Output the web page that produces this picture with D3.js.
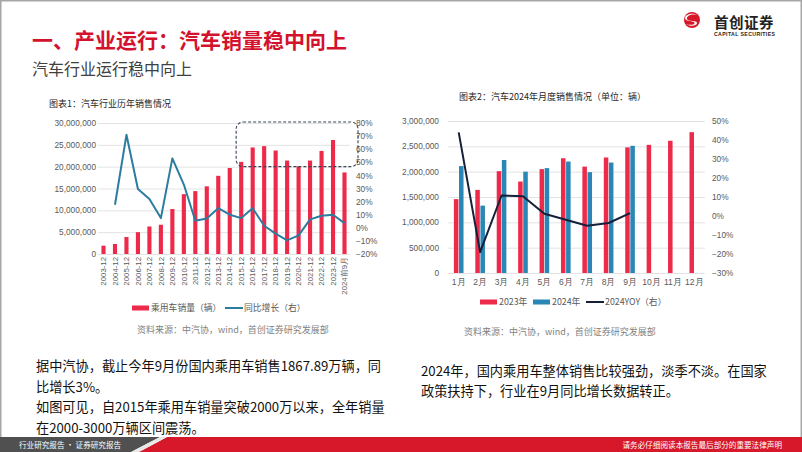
<!DOCTYPE html>
<html><head><meta charset="utf-8">
<script src="https://cdn.jsdelivr.net/npm/d3@7/dist/d3.min.js"></script>
<style>
html,body{margin:0;padding:0;background:#fff;}
svg{display:block;font-family:"Noto Sans CJK SC","Noto Sans",sans-serif;}
</style></head><body>
<svg id="c" width="802" height="452"></svg>
<script>
// ---- Data: chart 1 (annual) ----
const years = ["2003-12","2004-12","2005-12","2006-12","2007-12","2008-12","2009-12","2010-12","2011-12","2012-12","2013-12","2014-12","2015-12","2016-12","2017-12","2018-12","2019-12","2020-12","2021-12","2022-12","2023-12","2024前9月"];
const annualSales = [1.9e6,2.3e6,3.9e6,5.0e6,6.3e6,6.7e6,10.3e6,13.7e6,14.4e6,15.5e6,17.9e6,19.7e6,21.1e6,24.4e6,24.7e6,23.7e6,21.4e6,20.1e6,21.4e6,23.6e6,26.1e6,18.68e6];
const annualYoY = [null,0.176,0.71,0.296,0.22,0.074,0.53,0.33,0.054,0.071,0.15,0.10,0.074,0.149,0.016,-0.045,-0.096,-0.058,0.064,0.092,0.10,0.036];
const leftTicks = [0,5e6,10e6,15e6,20e6,25e6,30e6];
const rightTicks1 = [-0.2,-0.1,0,0.1,0.2,0.3,0.4,0.5,0.6,0.7,0.8];
// ---- Data: chart 2 (monthly) ----
const months = ["1月","2月","3月","4月","5月","6月","7月","8月","9月","10月","11月","12月"];
const sales2023 = [1.458e6,1.64e6,2.01e6,1.805e6,2.05e6,2.265e6,2.10e6,2.28e6,2.48e6,2.53e6,2.61e6,2.78e6];
const sales2024 = [2.11e6,1.33e6,2.23e6,2.0e6,2.07e6,2.2e6,1.99e6,2.18e6,2.51e6];
const yoy2024 = [0.44,-0.19,0.108,0.104,0.012,-0.02,-0.051,-0.037,0.015];
const leftTicks2 = [0,5e5,1e6,1.5e6,2e6,2.5e6,3e6];
const rightTicks2 = [-0.3,-0.2,-0.1,0,0.1,0.2,0.3,0.4,0.5];

const RED="#EE2A4A", BLUE="#2A86B4", TEAL="#2B7DA0", NAVY="#15203A", AX="#595959", GRID="#E3E3E3";
const svg = d3.select("#c");
const fmtN = d3.format(","), fmtP = d3.format(".0%");

// frame
svg.append("rect").attr("x",0.75).attr("y",0.75).attr("width",800.5).attr("height",450.5).attr("fill","none").attr("stroke","#A6A6A6").attr("stroke-width",1.5);

// header
svg.append("text").attr("x",32).attr("y",48).attr("font-size",21).attr("font-weight","bold").attr("fill","#D3122E").text("一、产业运行：汽车销量稳中向上");
svg.append("text").attr("x",32).attr("y",75).attr("font-size",16).attr("fill","#404040").text("汽车行业运行稳中向上");

// logo
const lg = svg.append("g").attr("transform","translate(692,20)");
lg.append("circle").attr("r",8).attr("fill","#D7182A");
lg.append("path").attr("d","M5.5,-4.5 C2,-7 -6,-5 -5,-1 C-4,2 5,0 5,3 C5,6 -2,7 -6,4 C-2,5.5 3,5 2.5,2.8 C2,0.5 -7,2 -7,-2 C-7,-6 2,-8 5.5,-4.5Z").attr("fill","#fff");
svg.append("text").attr("x",714).attr("y",28).attr("font-size",14.5).attr("font-weight","bold").attr("fill","#222").attr("letter-spacing",0.5).text("首创证券");
svg.append("text").attr("x",714).attr("y",36).attr("font-size",5.2).attr("font-weight","bold").attr("fill","#222").attr("font-family","Liberation Sans, sans-serif").attr("textLength",61).text("CAPITAL SECURITIES");

// ================= Chart 1 =================
const c1 = svg.append("g");
const x1 = d3.scaleBand().domain(years).range([98,350]).paddingInner(0.64).paddingOuter(0.3);
const y1 = d3.scaleLinear().domain([0,30e6]).range([254,123]);
const y1r = d3.scaleLinear().domain([-0.2,0.8]).range([254,123]);

c1.append("text").attr("x",49).attr("y",107).attr("font-size",9).attr("fill","#262626").text("图表1：汽车行业历年销售情况");

// grid
c1.append("g").attr("transform","translate(98,0)")
  .call(d3.axisLeft(y1).tickValues(leftTicks).tickSize(-252).tickFormat(""))
  .call(g=>{g.select(".domain").remove();g.selectAll("line").attr("stroke",GRID);});
// left axis labels
c1.append("g").attr("transform","translate(96,0)")
  .call(d3.axisLeft(y1).tickValues(leftTicks).tickSize(0).tickPadding(0).tickFormat(fmtN))
  .call(g=>{g.select(".domain").remove();g.selectAll("text").attr("font-size",8.3).attr("fill",AX).attr("font-family","Liberation Sans, sans-serif");});
// right axis labels
c1.append("g").attr("transform","translate(356,0)")
  .call(d3.axisRight(y1r).tickValues(rightTicks1).tickSize(0).tickPadding(0).tickFormat(fmtP))
  .call(g=>{g.select(".domain").remove();g.selectAll("text").attr("font-size",8.3).attr("fill",AX).attr("font-family","Liberation Sans, sans-serif");});

// bars
c1.selectAll("rect.b").data(years).join("rect").attr("class","b")
  .attr("x",d=>x1(d)).attr("width",x1.bandwidth())
  .attr("y",(d,i)=>y1(annualSales[i])).attr("height",(d,i)=>y1(0)-y1(annualSales[i]))
  .attr("fill",RED);
// line
const line1 = d3.line().defined(d=>d.v!=null).x(d=>x1(d.k)+x1.bandwidth()/2).y(d=>y1r(d.v));
c1.append("path").datum(years.map((k,i)=>({k,v:annualYoY[i]})))
  .attr("d",line1).attr("fill","none").attr("stroke",TEAL).attr("stroke-width",2).attr("stroke-linejoin","round");
// x labels
c1.append("g").attr("transform","translate(0,257)")
  .call(d3.axisBottom(x1).tickSize(0).tickPadding(0))
  .call(g=>{g.select(".domain").remove();
    g.selectAll("text").attr("font-size",7.8).attr("fill",AX).attr("text-anchor","end")
     .attr("transform","rotate(-90)").attr("x",0).attr("y",0).attr("dy","0.35em");});
// dashed highlight box
c1.append("rect").attr("x",x1("2015-12")-3).attr("y",y1(30e6)-1).attr("width",358-(x1("2015-12")-3)).attr("height",y1(20e6)-y1(30e6)+1)
  .attr("rx",7).attr("fill","none").attr("stroke","#3A4556").attr("stroke-width",1.1).attr("stroke-dasharray","3,2");

// legend 1
c1.append("rect").attr("x",132).attr("y",305.5).attr("width",17).attr("height",5).attr("fill",RED);
c1.append("text").attr("x",151).attr("y",311).attr("font-size",8.8).attr("fill",AX).text("乘用车销量（辆）");
c1.append("line").attr("x1",225).attr("x2",243).attr("y1",308).attr("y2",308).attr("stroke",TEAL).attr("stroke-width",2);
c1.append("text").attr("x",244).attr("y",311).attr("font-size",8.8).attr("fill",AX).text("同比增长（右）");
c1.append("text").attr("x",233).attr("y",333).attr("font-size",9).attr("fill","#7F7F7F").attr("text-anchor","middle").text("资料来源：中汽协，wind，首创证券研究发展部");

// ================= Chart 2 =================
const c2 = svg.append("g");
const x2 = d3.scaleBand().domain(months).range([448,705]).paddingInner(0.55).paddingOuter(0.275);
const x2s = d3.scaleBand().domain(["2023","2024"]).range([0,x2.bandwidth()]).paddingInner(0.12);
const y2 = d3.scaleLinear().domain([0,3e6]).range([273,121]);
const y2r = d3.scaleLinear().domain([-0.3,0.5]).range([273,121]);

c2.append("text").attr("x",459).attr("y",100).attr("font-size",9).attr("fill","#262626").text("图表2：汽车2024年月度销售情况（单位：辆）");

c2.append("g").attr("transform","translate(448,0)")
  .call(d3.axisLeft(y2).tickValues(leftTicks2).tickSize(-257).tickFormat(""))
  .call(g=>{g.select(".domain").remove();g.selectAll("line").attr("stroke",GRID);});
c2.append("g").attr("transform","translate(439,0)")
  .call(d3.axisLeft(y2).tickValues(leftTicks2).tickSize(0).tickPadding(0).tickFormat(fmtN))
  .call(g=>{g.select(".domain").remove();g.selectAll("text").attr("font-size",8.3).attr("fill",AX).attr("font-family","Liberation Sans, sans-serif");});
c2.append("g").attr("transform","translate(712,0)")
  .call(d3.axisRight(y2r).tickValues(rightTicks2).tickSize(0).tickPadding(0).tickFormat(fmtP))
  .call(g=>{g.select(".domain").remove();g.selectAll("text").attr("font-size",8.3).attr("fill",AX).attr("font-family","Liberation Sans, sans-serif");});

c2.selectAll("rect.r").data(months).join("rect").attr("class","r")
  .attr("x",d=>x2(d)+x2s("2023")).attr("width",x2s.bandwidth())
  .attr("y",(d,i)=>y2(sales2023[i])).attr("height",(d,i)=>y2(0)-y2(sales2023[i])).attr("fill",RED);
c2.selectAll("rect.bl").data(sales2024).join("rect").attr("class","bl")
  .attr("x",(d,i)=>x2(months[i])+x2s("2024")).attr("width",x2s.bandwidth())
  .attr("y",d=>y2(d)).attr("height",d=>y2(0)-y2(d)).attr("fill",BLUE);
const line2 = d3.line().x((d,i)=>x2(months[i])+x2.bandwidth()/2).y(d=>y2r(d));
c2.append("path").datum(yoy2024).attr("d",line2).attr("fill","none").attr("stroke",NAVY).attr("stroke-width",2).attr("stroke-linejoin","round");

c2.append("g").attr("transform","translate(0,279)")
  .call(d3.axisBottom(x2).tickSize(0).tickPadding(0))
  .call(g=>{g.select(".domain").remove();g.selectAll("text").attr("font-size",8.5).attr("fill",AX);});

// legend 2
c2.append("rect").attr("x",480).attr("y",299.5).attr("width",17).attr("height",5).attr("fill",RED);
c2.append("text").attr("x",499).attr("y",305).attr("font-size",8.8).attr("fill",AX).text("2023年");
c2.append("rect").attr("x",533).attr("y",299.5).attr("width",17).attr("height",5).attr("fill",BLUE);
c2.append("text").attr("x",552).attr("y",305).attr("font-size",8.8).attr("fill",AX).text("2024年");
c2.append("line").attr("x1",586).attr("x2",604).attr("y1",302).attr("y2",302).attr("stroke",NAVY).attr("stroke-width",2);
c2.append("text").attr("x",605).attr("y",305).attr("font-size",8.8).attr("fill",AX).text("2024YOY（右）");
c2.append("text").attr("x",560).attr("y",335).attr("font-size",9).attr("fill","#7F7F7F").attr("text-anchor","middle").text("资料来源：中汽协，wind，首创证券研究发展部");

// ================= Body text =================
const leftLines = ["据中汽协，截止今年9月份国内乘用车销售1867.89万辆，同","比增长3%。","如图可见，自2015年乘用车销量突破2000万以来，全年销量","在2000-3000万辆区间震荡。"];
svg.append("g").selectAll("text").data(leftLines).join("text")
  .attr("x",36).attr("y",(d,i)=>371+i*20.5).attr("font-size",13.2).attr("fill","#111").text(d=>d);
const rightLines = ["2024年，国内乘用车整体销售比较强劲，淡季不淡。在国家","政策扶持下，行业在9月同比增长数据转正。"];
svg.append("g").selectAll("text").data(rightLines).join("text")
  .attr("x",421).attr("y",(d,i)=>376+i*20).attr("font-size",13.2).attr("fill","#111").text(d=>d);

// ================= Footer =================
svg.append("path").attr("d","M0,437 L160,437 L131,452 L0,452Z").attr("fill","#505050");
svg.append("path").attr("d","M167,437 L802,437 L802,452 L139,452Z").attr("fill","#D7182A");
svg.append("path").attr("d","M160,437 L167,437 L139,452 L131,452Z").attr("fill","#E8E8E8");
svg.append("text").attr("x",19).attr("y",448).attr("font-size",7.6).attr("fill","#fff").text("行业研究报告 · 证券研究报告");
svg.append("text").attr("x",782).attr("y",448).attr("font-size",7.6).attr("fill","#fff").attr("text-anchor","end").text("请务必仔细阅读本报告最后部分的重要法律声明");
</script>
</body></html>
